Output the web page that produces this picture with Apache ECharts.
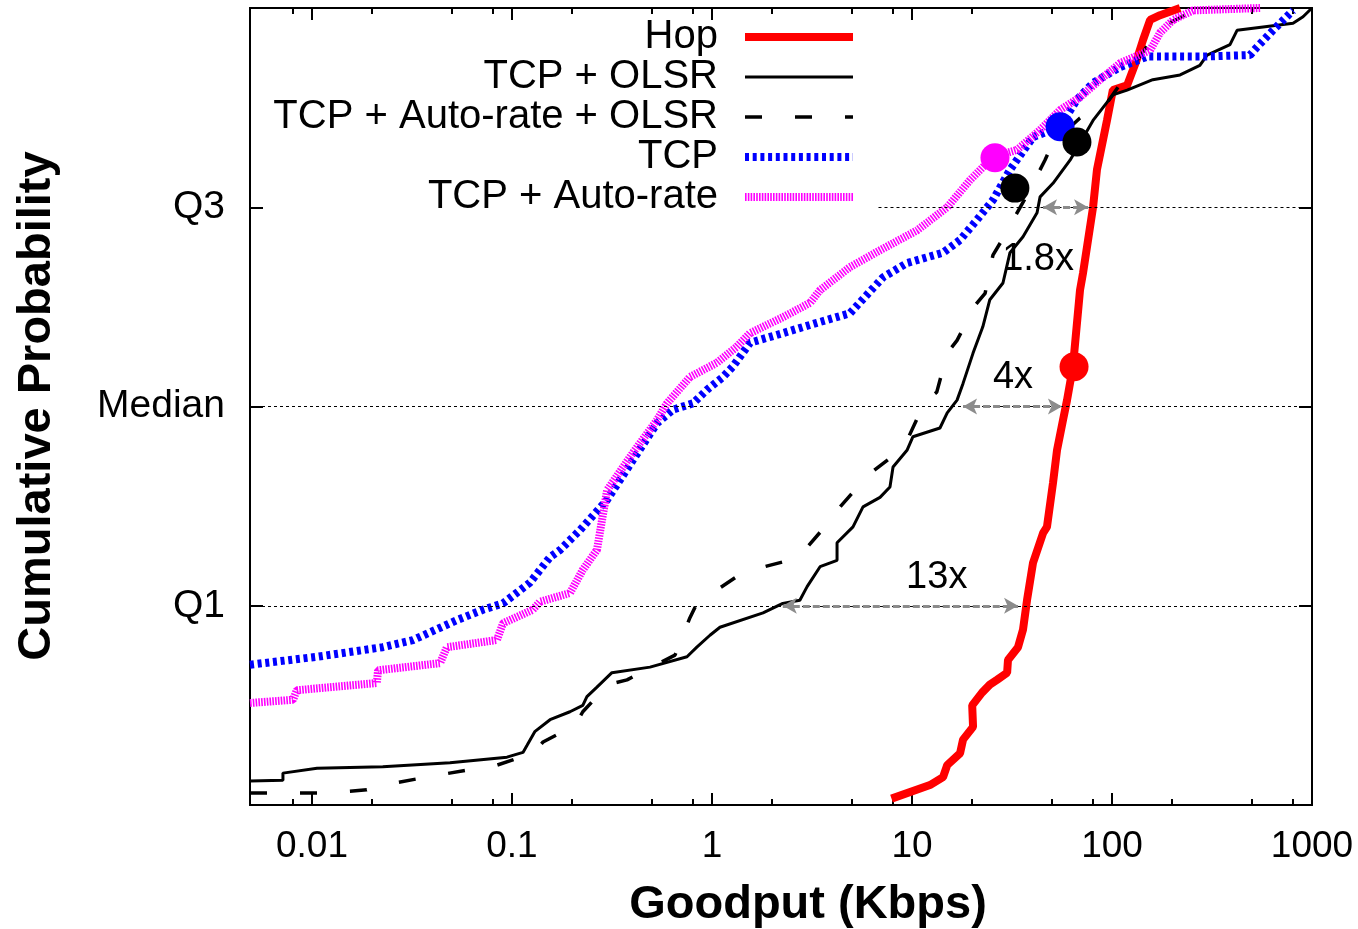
<!DOCTYPE html>
<html><head><meta charset="utf-8">
<script src="https://cdn.jsdelivr.net/npm/echarts@6/dist/echarts.min.js"></script>
<style>html,body{margin:0;padding:0;background:#fff}#c{width:1358px;height:929px}</style>
</head><body><div id="c"></div>
<script>
// ---------- data (Goodput Kbps, cumulative probability) ----------
const hop = [[7.9,0.008],[12.3,0.025],[14.3,0.035],[15.0,0.050],[17.4,0.065],[18.0,0.082],[20.2,0.098],[20.0,0.125],[22.4,0.141],[24.5,0.151],[26.6,0.157],[29.9,0.166],[30.2,0.182],[33.9,0.198],[35.9,0.220],[37.6,0.257],[40.3,0.304],[45.2,0.341],[47.3,0.349],[50.7,0.404],[53.1,0.445],[56.9,0.483],[59.6,0.508],[63.8,0.550],[69.2,0.646],[71.6,0.667],[80.4,0.750],[84.1,0.797],[94.4,0.859],[101,0.897],[119,0.903],[133,0.935],[143,0.960],[155,0.985],[174,0.991],[219,1.0]];
const tcpOlsr = [[0.0049,0.030],[0.00716,0.031],[0.00716,0.040],[0.0106,0.046],[0.0226,0.048],[0.049,0.053],[0.0944,0.060],[0.1135,0.066],[0.119,0.075],[0.130,0.092],[0.155,0.107],[0.195,0.117],[0.226,0.125],[0.237,0.136],[0.266,0.148],[0.316,0.166],[0.49,0.173],[0.75,0.186],[0.84,0.198],[0.977,0.213],[1.096,0.223],[1.80,0.241],[2.26,0.253],[2.75,0.257],[2.99,0.274],[3.47,0.299],[4.22,0.307],[4.22,0.329],[5.07,0.349],[5.69,0.374],[6.92,0.386],[7.76,0.399],[8.04,0.424],[9.44,0.445],[10.1,0.462],[13.8,0.473],[15.0,0.492],[16.8,0.508],[18.0,0.529],[20.2,0.567],[22.6,0.600],[24.5,0.634],[28.5,0.655],[30.9,0.693],[35.9,0.713],[42.2,0.743],[43.7,0.763],[50.7,0.780],[61.7,0.809],[80.4,0.859],[101,0.891],[119,0.897],[160,0.910],[219,0.916],[275,0.928],[299,0.941],[389,0.954],[422,0.972],[804,0.981],[902,0.989],[1000,1.0]];
const tcpArOlsr = [[0.0049,0.015],[0.0120,0.015],[0.0188,0.019],[0.0226,0.025],[0.0437,0.038],[0.0841,0.050],[0.127,0.065],[0.143,0.079],[0.207,0.100],[0.226,0.117],[0.302,0.151],[0.376,0.157],[0.653,0.188],[0.776,0.235],[0.841,0.253],[1.43,0.292],[2.69,0.310],[3.55,0.345],[4.03,0.364],[6.03,0.414],[8.51,0.443],[9.55,0.460],[11.6,0.506],[13.3,0.518],[15.0,0.567],[16.8,0.583],[20.7,0.627],[23.2,0.642],[25.4,0.690],[28.2,0.709],[38.9,0.772],[46.2,0.809],[50.7,0.831],[69.2,0.862],[94.4,0.881],[123,0.922],[174,0.975],[207,0.985],[275,1.0]];
const tcp = [[0.0049,0.176],[0.0106,0.186],[0.0226,0.198],[0.032,0.207],[0.0531,0.232],[0.0716,0.245],[0.0902,0.253],[0.123,0.279],[0.155,0.311],[0.174,0.320],[0.219,0.345],[0.299,0.383],[0.403,0.433],[0.531,0.479],[0.638,0.496],[0.804,0.504],[0.944,0.521],[1.135,0.537],[1.27,0.550],[1.55,0.580],[2.26,0.592],[3.35,0.605],[4.90,0.617],[7.16,0.662],[9.44,0.680],[14.3,0.693],[17.4,0.709],[21.1,0.734],[25.4,0.759],[30.9,0.797],[40.3,0.838],[55.0,0.851],[66.8,0.885],[80.4,0.906],[110,0.926],[150,0.939],[285,0.939],[490,0.941],[531,0.951],[638,0.972],[804,0.997]];
const tcpAr = [[0.0049,0.128],[0.00804,0.132],[0.0084,0.144],[0.0211,0.153],[0.0214,0.169],[0.0437,0.178],[0.0473,0.198],[0.0841,0.207],[0.0902,0.228],[0.127,0.245],[0.138,0.255],[0.195,0.266],[0.226,0.295],[0.266,0.320],[0.299,0.395],[0.403,0.442],[0.531,0.483],[0.596,0.504],[0.776,0.537],[1.06,0.555],[1.33,0.575],[1.55,0.592],[2.26,0.612],[3.09,0.630],[3.47,0.646],[4.90,0.675],[6.92,0.696],[10.6,0.721],[15.0,0.750],[19.5,0.784],[25.4,0.813],[33.5,0.822],[43.7,0.847],[55.0,0.872],[69.2,0.888],[87.1,0.910],[110,0.931],[155,0.947],[174,0.969],[202,0.985],[254,0.997],[550,1.0]];
const dotsMagenta = [[26.0,0.812]];
const dotsBlue = [[55.0,0.851]];
const dotsBlack = [[32.7,0.774],[66.8,0.832]];
const dotsRed = [[64.6,0.550]];
const ratioArrows = [[45.2,75.9,0.75],[18.0,56.2,0.5],[2.26,33.9,0.25]];
const ratioLabels = [[42.7,0.684,'1.8x'],[32.0,0.536,'4x'],[13.3,0.285,'13x']];
const xMajor = [0.01,0.1,1,10,100];
const xLabels = [0.01,0.1,1,10,100,1000];
const xMinor = [0.008,0.02,0.05,0.08,0.2,0.5,0.8,2,5,8,20,50,80,200,500,800];
const yTicks = [0.25,0.5,0.75];
const yTickNames = {'0.25':'Q1','0.5':'Median','0.75':'Q3'};
const names = ['Hop','TCP + OLSR','TCP + Auto-rate + OLSR','TCP','TCP + Auto-rate'];

const FONT = 'Liberation Sans';
const xMin = 0.0049, xMax = 1000;
const labStr = v => { const e = Math.round(Math.log10(v)); return ['0.01','0.1','1','10','100','1000'][e+2]; };

const styles = {
  'Hop': {color:'#ff0000', width:8, type:'solid'},
  'TCP + OLSR': {color:'#000000', width:3, type:'solid'},
  'TCP + Auto-rate + OLSR': {color:'#000000', width:3.5, type:[17,33]},
  'TCP': {color:'#0000ff', width:8, type:[4,3.7]},
  'TCP + Auto-rate': {color:'#ff00ff', width:8, type:[1.6,1.2]}
};
const seriesData = {'Hop':hop, 'TCP + OLSR':tcpOlsr, 'TCP + Auto-rate + OLSR':tcpArOlsr, 'TCP':tcp, 'TCP + Auto-rate':tcpAr};

function xAx(pos, vals, len, labels) {
  return {
    type:'log', logBase:10, min:xMin, max:xMax, position:pos,
    axisLine:{show:true, onZero:false, lineStyle:{color:'#000', width:2}},
    axisTick:{show:true, inside:true, length:len, customValues:vals, lineStyle:{color:'#000', width:2}},
    axisLabel: labels ? {show:true, customValues:xLabels, formatter:labStr, fontFamily:FONT, fontSize:37, color:'#000', margin:23} : {show:false},
    splitLine:{show:false}, minorTick:{show:false}
  };
}
function yAx(pos, labels) {
  return {
    type:'value', min:0, max:1, interval:0.25, position:pos,
    axisLine:{show:true, onZero:false, lineStyle:{color:'#000', width:2}},
    axisTick:{show:true, inside:true, length:13, customValues:yTicks, lineStyle:{color:'#000', width:2}},
    axisLabel: labels ? {show:true, customValues:yTicks, formatter:v=>yTickNames[String(v)]||'', fontFamily:FONT, fontSize:39, color:'#000', margin:25} : {show:false},
    splitLine:{show:false}
  };
}

const chart = echarts.init(document.getElementById('c'), null, {renderer:'canvas'});
const dot = (data, color) => ({type:'scatter', data, symbol:'circle', symbolSize:29, itemStyle:{color, opacity:1}, z:6, silent:true, animation:false});

const curveSeries = names.map(n => ({
  type:'line', name:n, data:seriesData[n], symbol:'none', showSymbol:false, animation:false, silent:true, z:3,
  lineStyle:{color:styles[n].color, width:styles[n].width, type:styles[n].type},
  itemStyle:{color:styles[n].color}
}));

chart.setOption({
  animation:false,
  backgroundColor:'#fff',
  grid:{left:250, right:46, top:8, bottom:124, containLabel:false},
  xAxis:[xAx('bottom', xMajor, 12, true), xAx('bottom', xMinor, 6, false), xAx('top', xMajor, 12, false), xAx('top', xMinor, 6, false)],
  yAxis:[yAx('left', true), yAx('right', false)],
  legend:{
    data:names.map(n => ({name:n, itemStyle:{opacity:0}, lineStyle:{color:styles[n].color, width:styles[n].width, type:styles[n].type, opacity:1}})),
    orient:'vertical', align:'right', right:501, top:17, padding:0,
    itemWidth:108, itemHeight:12, itemGap:0,
    itemStyle:{opacity:0},
    textStyle:{fontFamily:FONT, fontSize:40, color:'#000', lineHeight:40, padding:[0,22,0,0]},
    selectedMode:false
  },
  graphic:[
    {type:'text', x:37, y:406, rotation:Math.PI/2, style:{text:'Cumulative Probability', font:'bold 47px "Liberation Sans"', fill:'#000', align:'center', verticalAlign:'middle'}},
    {type:'text', x:808, y:905, style:{text:'Goodput (Kbps)', font:'bold 47px "Liberation Sans"', fill:'#000', align:'center', verticalAlign:'middle'}}
  ],
  series:[
    {type:'line', data:[], silent:true, animation:false, z:1,
     markLine:{silent:true, symbol:'none', animation:false, label:{show:false},
       lineStyle:{color:'#000', width:1, type:[3,3]},
       data:[
         [{coord:[xMin,0.25]},{coord:[xMax,0.25]}],
         [{coord:[xMin,0.5]},{coord:[xMax,0.5]}],
         [{coord:[6.8,0.75]},{coord:[xMax,0.75]}]
       ]}}
  ].concat(curveSeries).concat([
    {type:'line', data:[], silent:true, animation:false, z:5,
     markLine:{silent:true, symbol:['arrow','arrow'], symbolSize:[12,14], animation:false, label:{show:false},
       lineStyle:{color:'#8c8c8c', width:3, type:[7,3]},
       data: ratioArrows.map(a => [{coord:[a[0],a[2]]},{coord:[a[1],a[2]]}])}},
    {type:'scatter', silent:true, animation:false, z:7, symbol:'circle', symbolSize:0, itemStyle:{color:'#000', opacity:1},
     data: ratioLabels.map(l => ({value:[l[0],l[1]], name:l[2]})),
     label:{show:true, position:'inside', formatter:p=>p.name, fontFamily:FONT, fontSize:38, color:'#000', opacity:1, textBorderWidth:0}},
    dot(dotsMagenta, '#ff00ff'),
    dot(dotsBlue, '#0000ff'),
    dot(dotsBlack, '#000000'),
    dot(dotsRed, '#ff0000')
  ])
});
</script></body></html>
